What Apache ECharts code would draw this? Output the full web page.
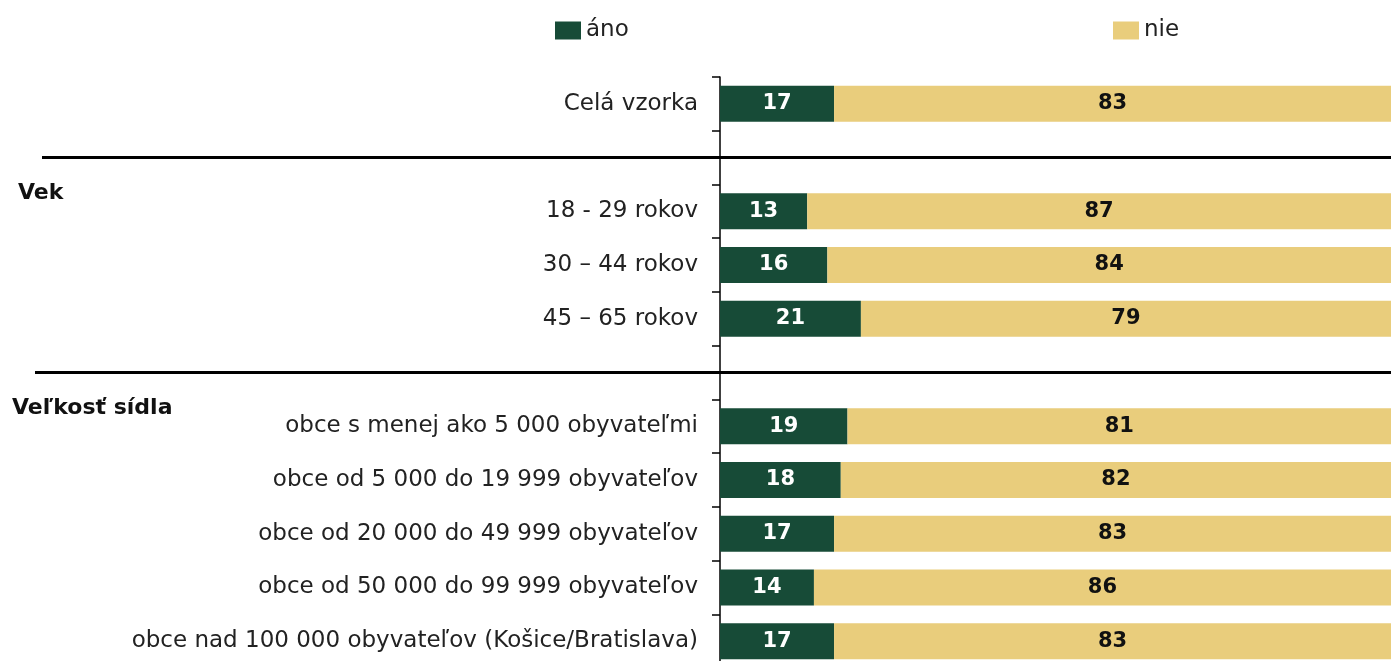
<!DOCTYPE html>
<html>
<head>
<meta charset="utf-8">
<script src="https://cdn.jsdelivr.net/npm/echarts@6/dist/echarts.min.js"></script>
<style>
  html, body { margin: 0; padding: 0; background: #fff; overflow: hidden; }
  #chart { width: 1391px; height: 670px; }
</style>
</head>
<body>
<div id="chart"></div>
<script>
// kategórie (prázdne riadky = oddeľovače skupín)
const categories = [
  'Celá vzorka',
  '',
  '18 - 29 rokov',
  '30 – 44 rokov',
  '45 – 65 rokov',
  '',
  'obce s menej ako 5 000 obyvateľmi',
  'obce od 5 000 do 19 999 obyvateľov',
  'obce od 20 000 do 49 999 obyvateľov',
  'obce od 50 000 do 99 999 obyvateľov',
  'obce nad 100 000 obyvateľov (Košice/Bratislava)'
];
const anoValues = [17, null, 13, 16, 21, null, 19, 18, 17, 14, 17];
const nieValues = [83, null, 87, 84, 79, null, 81, 82, 83, 86, 83];
const groups = [
  { name: 'Vek', first: 2, left: 18 },
  { name: 'Veľkosť sídla', first: 6, left: 12 }
];
const separators = [
  { index: 1, left: 42 },
  { index: 5, left: 35 }
];

const FONT = 'DejaVu Sans';
const GREEN = '#174b37';
const YELLOW = '#e9cd7c';

const chart = echarts.init(document.getElementById('chart'));

chart.setOption({
  animation: false,
  legend: [
    {
      data: ['áno'],
      left: 550,
      top: 14,
      icon: 'rect',
      itemWidth: 26,
      itemHeight: 18,
      textStyle: { fontFamily: FONT, fontSize: 23, color: '#222' }
    },
    {
      data: ['nie'],
      left: 1108,
      top: 14,
      icon: 'rect',
      itemWidth: 26,
      itemHeight: 18,
      textStyle: { fontFamily: FONT, fontSize: 23, color: '#222' }
    }
  ],
  grid: {
    left: 720,
    right: 0,
    top: 77,
    height: 591
  },
  xAxis: {
    type: 'value',
    min: 0,
    max: 100,
    show: false
  },
  yAxis: {
    type: 'category',
    inverse: true,
    data: categories,
    axisLine: { show: true, lineStyle: { color: '#000', width: 1.5 } },
    axisTick: { show: true, length: 8, lineStyle: { color: '#000', width: 1.5 } },
    axisLabel: {
      margin: 22,
      fontFamily: FONT,
      fontSize: 23,
      color: '#222'
    }
  },
  series: [
    {
      name: 'áno',
      type: 'bar',
      stack: 'a',
      barWidth: 36,
      itemStyle: { color: GREEN },
      label: {
        show: true,
        position: 'inside',
        color: '#fff',
        fontFamily: FONT,
        fontWeight: 'bold',
        fontSize: 21
      },
      data: anoValues
    },
    {
      name: 'nie',
      type: 'bar',
      stack: 'a',
      barWidth: 36,
      itemStyle: { color: YELLOW },
      label: {
        show: true,
        position: 'inside',
        color: '#111',
        fontFamily: FONT,
        fontWeight: 'bold',
        fontSize: 21
      },
      data: nieValues
    }
  ]
});

// oddeľovacie čiary a nadpisy skupín podľa pozície osi
const graphic = [];
separators.forEach(function (s) {
  const y = chart.convertToPixel({ yAxisIndex: 0 }, s.index);
  graphic.push({
    type: 'line',
    shape: { x1: s.left, y1: y, x2: 1391, y2: y },
    style: { stroke: '#000', lineWidth: 3 },
    z: 10
  });
});
groups.forEach(function (g) {
  const y = chart.convertToPixel({ yAxisIndex: 0 }, g.first);
  graphic.push({
    type: 'text',
    left: g.left,
    top: y - 29,
    style: {
      text: g.name,
      font: 'bold 22px "DejaVu Sans"',
      fill: '#111'
    }
  });
});
chart.setOption({ graphic: graphic });
</script>
</body>
</html>
